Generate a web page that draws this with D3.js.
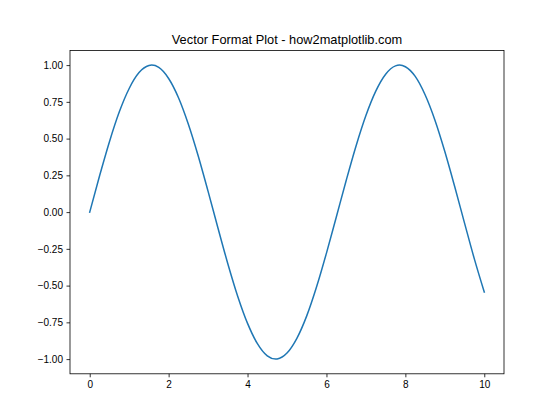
<!DOCTYPE html>
<html><head><meta charset="utf-8">
<script src="https://cdn.jsdelivr.net/npm/d3@7"></script>
<style>body{margin:0;background:#fff}svg{display:block}text{font-family:"Liberation Sans",Arial,sans-serif;fill:#000}</style>
</head><body><svg id="c" width="560" height="420"></svg>
<script>
const xValues = [0,0.25,0.5,0.75,1,1.25,1.5,1.571,1.75,2,2.25,2.5,2.75,3,3.25,3.5,3.75,4,4.25,4.5,4.712,4.75,5,5.25,5.5,5.75,6,6.25,6.5,6.75,7,7.25,7.5,7.75,7.854,8,8.25,8.5,8.75,9,9.25,9.5,9.75,10];
const yValues = [0,0.247,0.479,0.682,0.841,0.949,0.997,1.0,0.984,0.909,0.778,0.598,0.382,0.141,-0.108,-0.351,-0.572,-0.757,-0.895,-0.978,-1.0,-0.999,-0.959,-0.859,-0.706,-0.508,-0.279,-0.033,0.215,0.450,0.657,0.823,0.938,0.995,1.0,0.989,0.923,0.798,0.625,0.412,0.174,-0.075,-0.320,-0.544];
const xTicks = [0,2,4,6,8,10];
const yTicks = [-1,-0.75,-0.5,-0.25,0,0.25,0.5,0.75,1];
const title = "Vector Format Plot - how2matplotlib.com";

const svg = d3.select("#c");
const L=70,R=504,T=50.4,B=373.8;
const x = d3.scaleLinear().domain([-0.5,10.5]).range([L,R]);
const y = d3.scaleLinear().domain([-1.1,1.1]).range([B,T]);

const xa = svg.append("g").attr("transform",`translate(0,${B})`)
  .call(d3.axisBottom(x).tickValues(xTicks).tickSize(3.5).tickPadding(3.5).tickFormat(d3.format("d")));
const ya = svg.append("g").attr("transform",`translate(${L},0)`)
  .call(d3.axisLeft(y).tickValues(yTicks).tickSize(3.5).tickPadding(3.5).tickFormat(d3.format(".2f")));
[xa,ya].forEach(a=>{a.select(".domain").remove();a.selectAll("line").attr("stroke","#000").attr("stroke-width",0.8);a.selectAll("text").attr("font-size",10).attr("font-family","Liberation Sans, Arial, sans-serif").attr("fill","#000");});

const pts = xValues.map((d,i)=>[d,yValues[i]]);
svg.append("path").datum(pts)
  .attr("d",d3.line().x(d=>x(d[0])).y(d=>y(d[1])).curve(d3.curveMonotoneX))
  .attr("fill","none").attr("stroke","#1f77b4").attr("stroke-width",1.5).attr("stroke-linecap","square");

svg.append("rect").attr("x",L).attr("y",T).attr("width",R-L).attr("height",B-T)
  .attr("fill","none").attr("stroke","#000").attr("stroke-width",0.8);

svg.append("text").attr("x",(L+R)/2).attr("y",T-6.5).attr("text-anchor","middle").attr("font-size",12.8).text(title);
</script></body></html>
